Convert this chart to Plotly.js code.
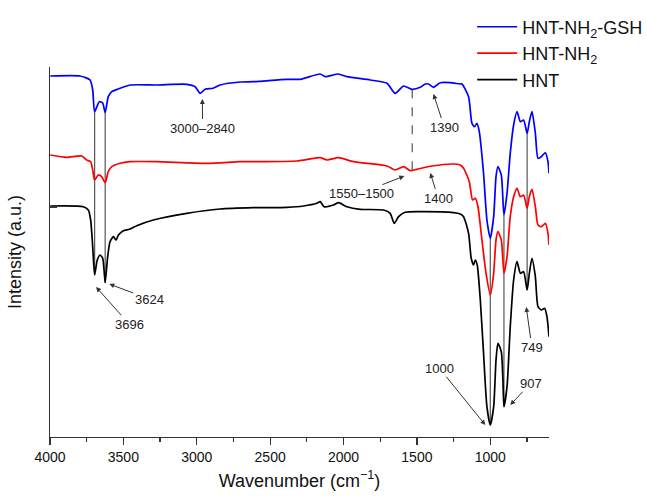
<!DOCTYPE html>
<html>
<head>
<meta charset="utf-8">
<script src="https://cdn.plot.ly/plotly-3.0.1.min.js"></script>
<style>html,body{margin:0;padding:0;background:#fff;}#chart{width:646px;height:497px;}</style>
</head>
<body>
<div id="chart"></div>
<script>
// Wavenumber (cm-1) and intensity (a.u.)
const wnGSH = [3998, 3795, 3727, 3709, 3696, 3664, 3641, 3624, 3603, 3579, 3536, 3455, 3273, 3068, 3011, 2977, 2943, 2889, 2841, 2705, 2614, 2386, 2295, 2159, 2125, 2036, 1977, 1818, 1704, 1648, 1591, 1534, 1477, 1443, 1421, 1387, 1341, 1273, 1205, 1193, 1148, 1125, 1107, 1091, 1075, 1046, 1023, 1000, 977, 961, 948, 925, 907, 886, 864, 841, 818, 795, 773, 749, 734, 716, 693, 675, 652, 625, 607, 600];
const intGSH = [361, 361, 357, 347, 325.3, 335.3, 334, 324.3, 340.3, 345.3, 348, 352, 352, 352.7, 350.3, 343.7, 347.7, 348.7, 352, 355, 355.3, 357.7, 357.7, 363, 360.3, 363, 360.3, 357, 353.7, 343.7, 351, 347.7, 349.7, 353, 353, 349.7, 354.3, 354.3, 353, 353, 340.3, 313.7, 310.3, 313.7, 305.3, 263.7, 217, 198.7, 220.3, 260.3, 270.3, 262, 222, 243.7, 283.7, 312, 325.3, 315.3, 317, 303.7, 315.3, 325.3, 303.7, 278.7, 280.3, 284.3, 275.3, 263.7];

const wnNH2 = [3998, 3886, 3784, 3750, 3723, 3709, 3696, 3671, 3648, 3624, 3603, 3579, 3523, 3455, 3273, 2932, 2705, 2614, 2318, 2159, 2113, 2034, 1932, 1704, 1648, 1591, 1545, 1500, 1398, 1250, 1205, 1182, 1143, 1121, 1102, 1084, 1057, 1029, 1000, 977, 961, 948, 925, 907, 886, 864, 841, 818, 795, 773, 749, 734, 716, 693, 675, 652, 625, 607, 600];
const intNH2 = [282, 279.7, 281, 277, 275.3, 267, 257, 262, 260.3, 254.3, 265.3, 270.3, 273.7, 275.3, 275.3, 273.7, 275.3, 275.3, 276, 279.3, 277, 279.3, 275.3, 271, 267, 270.3, 266.3, 267.7, 271, 273, 272, 268.7, 255.3, 237, 238.7, 230.3, 197, 163.7, 142, 163.7, 197, 205.3, 197, 163.7, 180.3, 220.3, 240.3, 248.7, 240.3, 242, 228.7, 240.3, 247.7, 230.3, 212, 210.3, 213.7, 203.7, 192];

const wnHNT = [3998, 3773, 3739, 3723, 3709, 3696, 3678, 3659, 3641, 3630, 3624, 3607, 3591, 3568, 3550, 3534, 3500, 3459, 3409, 3296, 3068, 2841, 2614, 2386, 2273, 2182, 2159, 2132, 2068, 2034, 1977, 1886, 1727, 1682, 1655, 1625, 1580, 1477, 1250, 1205, 1182, 1148, 1130, 1114, 1102, 1089, 1068, 1046, 1023, 1000, 977, 961, 948, 925, 914, 907, 886, 864, 841, 818, 795, 773, 749, 734, 716, 693, 675, 652, 630, 614, 600];
const intHNT = [231, 230.3, 227, 217, 190.3, 162, 177, 182, 178.7, 163.7, 154.3, 180.3, 195.3, 200.3, 197, 202, 206.3, 207.7, 211.3, 217, 223.7, 228, 229.3, 229.7, 231, 233.7, 235.3, 230.3, 232, 234.3, 230.3, 227.7, 227, 223.7, 213.7, 220.3, 224.7, 225.3, 224.3, 223, 220.3, 203.7, 178.7, 172, 177, 172, 137, 83.7, 30.3, 12, 30.3, 77, 93.7, 85.3, 57, 30.3, 50.3, 110.3, 157, 175.3, 163.7, 165.3, 147, 163.7, 178.7, 160.3, 130.3, 127, 128.7, 120.3, 100.3];

const seriesNames = ['HNT-NH<sub>2</sub>-GSH', 'HNT-NH<sub>2</sub>', 'HNT'];
const seriesColors = ['#0000ff', '#ff0000', '#000000'];
const peakLines = [3696, 3624, 1000, 907, 749];
const dashedPeak = 1532;
const xTickVals = [4000, 3500, 3000, 2500, 2000, 1500, 1000];
const peakLabels = ['3000–2840', '1390', '1550–1500', '1400', '3624', '3696', '749', '907', '1000'];

function interp(xs, ys, x) {
  for (let i = 0; i < xs.length - 1; i++) {
    const a = xs[i], b = xs[i + 1];
    if ((x <= a && x >= b) || (x >= a && x <= b)) {
      const t = (x - a) / (b - a);
      return ys[i] + t * (ys[i + 1] - ys[i]);
    }
  }
  return ys[ys.length - 1];
}

const traces = [
  {x: wnGSH, y: intGSH, name: seriesNames[0], color: seriesColors[0]},
  {x: wnNH2, y: intNH2, name: seriesNames[1], color: seriesColors[1]},
  {x: wnHNT, y: intHNT, name: seriesNames[2], color: seriesColors[2]}
].map(s => ({
  type: 'scatter', mode: 'lines', x: s.x, y: s.y, name: s.name,
  line: {color: s.color, width: 1.7, shape: 'spline', smoothing: 0.6}
}));

const shapes = peakLines.map(p => ({
  type: 'line', xref: 'x', yref: 'y', x0: p, x1: p,
  y0: interp(wnGSH, intGSH, p), y1: interp(wnHNT, intHNT, p),
  line: {color: '#555555', width: 1.2}, layer: 'below'
}));
shapes.push({
  type: 'line', xref: 'x', yref: 'y', x0: dashedPeak, x1: dashedPeak,
  y0: interp(wnGSH, intGSH, dashedPeak), y1: interp(wnNH2, intNH2, dashedPeak),
  line: {color: '#555555', width: 1.2, dash: 'dash'}, layer: 'below'
});

const annFont = {family: 'Liberation Sans, Arial, sans-serif', size: 13, color: '#222'};
// text centred at (tx, ty), arrow head at (hx, hy)
function callout(text, tx, ty, hx, hy) {
  return {text: text, x: hx, y: hy, ax: tx, ay: ty, xref: 'x', yref: 'y', axref: 'x', ayref: 'y',
    showarrow: true, arrowhead: 2, arrowsize: 1, arrowwidth: 1, arrowcolor: '#333',
    standoff: 0, startstandoff: 1, font: annFont, borderpad: 0};
}

const annotations = [
  callout(peakLabels[0], 2960, 309, 2962, 338),
  callout(peakLabels[1], 1314, 310, 1387, 343),
  callout(peakLabels[2], 1880, 244, 1586, 261),
  callout(peakLabels[3], 1355, 239, 1409, 264),
  callout(peakLabels[4], 3325, 138, 3596, 153),
  callout(peakLabels[5], 3461, 113, 3686, 150),
  callout(peakLabels[6], 717, 90, 755, 130),
  callout(peakLabels[7], 724, 54, 864, 32),
  callout(peakLabels[8], 1348, 69, 1034, 12)
];

const layout = {
  width: 646, height: 497,
  margin: {l: 50, r: 97, t: 67, b: 60, autoexpand: false},
  paper_bgcolor: '#fff', plot_bgcolor: '#fff',
  font: {family: 'Liberation Sans, Arial, sans-serif', color: '#222'},
  showlegend: true,
  legend: {x: 0.846, y: 1.158, xanchor: 'left', yanchor: 'top', bgcolor: 'rgba(0,0,0,0)',
    font: {size: 18, color: '#111'}, traceorder: 'normal', itemwidth: 40},
  xaxis: {
    range: [4000, 600], autorange: false,
    tickvals: xTickVals, ticktext: xTickVals.map(String),
    ticks: 'outside', ticklen: 7, tickwidth: 1.2, tickcolor: '#333',
    minor: {tickvals: [3750, 3250, 2750, 2250, 1750, 1250, 750], ticks: 'outside', ticklen: 4, tickwidth: 1.2, tickcolor: '#333'},
    showline: true, linecolor: '#333', linewidth: 1.2,
    showgrid: false, zeroline: false,
    tickfont: {size: 14, color: '#111'},
    title: {text: 'Wavenumber (cm<sup>−1</sup>)', font: {size: 18, color: '#111'}, standoff: 10}
  },
  yaxis: {
    range: [0, 370], autorange: false,
    tickvals: [230], showticklabels: false,
    ticks: 'inside', ticklen: 7, tickwidth: 1.2, tickcolor: '#333',
    showline: true, linecolor: '#333', linewidth: 1.2,
    showgrid: false, zeroline: false,
    title: {text: 'Intensity (a.u.)', font: {size: 18, color: '#111'}, standoff: 22}
  },
  shapes: shapes,
  annotations: annotations
};

Plotly.newPlot('chart', traces, layout, {displayModeBar: false, staticPlot: true});
</script>
</body>
</html>
